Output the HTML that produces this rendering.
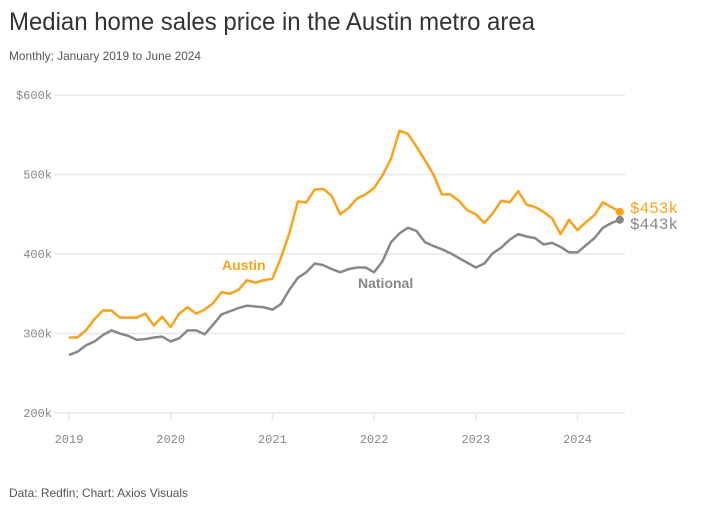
<!DOCTYPE html>
<html><head><meta charset="utf-8"><style>
body{margin:0;background:#fff;width:703px;height:508px;overflow:hidden;font-family:"Liberation Sans",sans-serif}
</style></head><body>
<svg id="chart" width="703" height="508" xmlns="http://www.w3.org/2000/svg">
<text x="9" y="30" font-size="25" fill="#333" textLength="526" lengthAdjust="spacingAndGlyphs">Median home sales price in the Austin metro area</text>
<text x="9" y="60" font-size="12" fill="#555" textLength="192" lengthAdjust="spacingAndGlyphs">Monthly; January 2019 to June 2024</text>
<text x="9" y="497" font-size="12" fill="#555" textLength="179" lengthAdjust="spacingAndGlyphs">Data: Redfin; Chart: Axios Visuals</text>
<g id="grid"></g><g id="lines"></g>
</svg>
<script>
const yTicks=[200,300,400,500,600];
const yTickLabels=["200k","300k","400k","500k","$600k"];
const xYears=[2019,2020,2021,2022,2023,2024];
const austin=[295,295,304,318,329,329,320,320,320,325,310,321,
308,325,333,325,330,338,352,350,355,367,364,367,
369,395,426,466,465,481,482,473,450,458,470,475,
483,499,520,555,551,535,518,500,475,475,467,455,
450,439,451,467,465,479,462,459,453,445,425,443,
430,440,449,465,459,453];
const national=[273,277,285,290,298,304,300,297,292,293,295,296,
290,294,304,304,299,311,324,328,332,335,334,333,
330,337,355,370,377,388,386,381,377,381,383,383,
377,391,415,426,433,429,415,410,406,401,395,389,
383,388,401,408,418,425,422,420,412,414,409,402,
402,411,420,433,439,443];
const NS="http://www.w3.org/2000/svg";
const X0=69,PX_YEAR=101.7,Y600=95,PXK=0.795;
const xs=i=>X0+i*PX_YEAR/12;
const ys=v=>Y600+(600-v)*PXK;
const grid=document.getElementById('grid'),lines=document.getElementById('lines');
function mk(t,a,p){const e=document.createElementNS(NS,t);for(const k in a)e.setAttribute(k,a[k]);p.appendChild(e);return e;}
yTicks.forEach((v,i)=>{
 const l=mk('line',{x1:54,x2:625,y1:ys(v),y2:ys(v),stroke:'#e8e8e8','stroke-width':1.5},grid);
 
 
 const t=mk('text',{x:52,y:ys(v)+4,'text-anchor':'end','font-size':12,fill:'#888','font-family':'Liberation Mono, monospace'},grid);
 t.textContent=yTickLabels[i];
 
 
});
xYears.forEach((yr,i)=>{
 const x=xs(i*12);
 const l=mk('line',{x1:x,x2:x,y1:ys(200),y2:ys(200)+8,stroke:'#e8e8e8','stroke-width':1.5},grid);
 
 
 const t=mk('text',{x:x,y:443,'text-anchor':'middle','font-size':12,fill:'#888','font-family':'Liberation Mono, monospace'},grid);
 t.textContent=yr;
 
 
});
function series(data,color,name,ly){
 const p=mk('polyline',{points:data.map((v,i)=>xs(i)+','+ys(v)).join(' '),fill:'none',stroke:color,'stroke-width':2.5,'stroke-linejoin':'round'},lines);
 
 
 const n=data.length-1;
 const c=mk('circle',{cx:xs(n),cy:ys(data[n]),r:4,fill:color},lines);
 
 
 const t=mk('text',{x:630,y:ly,'font-size':16,fill:color,'font-family':'Liberation Mono, monospace'},lines);
 t.textContent='$'+data[n]+'k';
 
 
}
series(national,'#888888','national',229);
series(austin,'#f9a21b','austin',213);
const a=mk('text',{x:222,y:270,'font-size':14,'font-weight':'bold',fill:'#f9a21b'},lines);
a.textContent='Austin';


const nl=mk('text',{x:358,y:288,'font-size':14,'font-weight':'bold',fill:'#888'},lines);
nl.textContent='National';


</script>
</body></html>
